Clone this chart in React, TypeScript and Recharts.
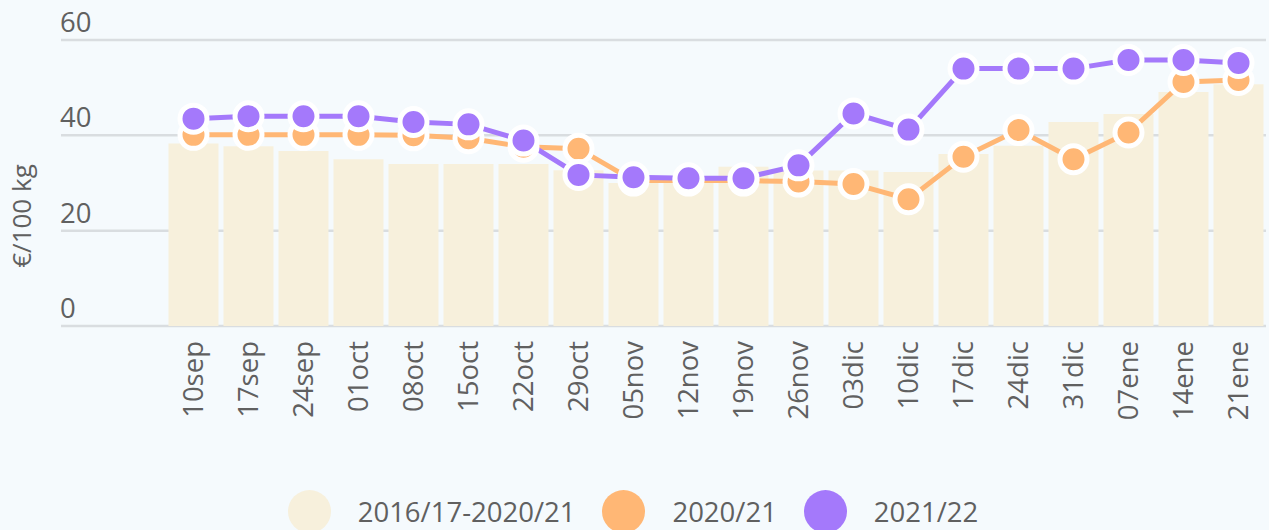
import {
  ComposedChart,
  Bar,
  Line,
  XAxis,
  YAxis,
  CartesianGrid,
  Legend,
} from "recharts";

document.body.style.margin = "0";

const WEEKS = [
  "10sep", "17sep", "24sep", "01oct", "08oct", "15oct", "22oct", "29oct",
  "05nov", "12nov", "19nov", "26nov", "03dic", "10dic", "17dic", "24dic",
  "31dic", "07ene", "14ene", "21ene",
];

// 2016/17-2020/21 average
const AVG_5Y = [
  38.3, 37.7, 36.7, 35.0, 34.0, 34.0, 34.0, 32.7, 30.0, 30.0,
  33.4, 32.6, 32.6, 32.3, 36.1, 37.8, 42.8, 44.5, 49.1, 50.7,
];

// 2020/21
const PREV = [
  40.1, 40.1, 40.1, 40.1, 40.0, 39.4, 37.6, 37.2, 30.5, 30.5,
  30.5, 30.3, 29.8, 26.6, 35.5, 41.1, 35.0, 40.6, 51.2, 51.6,
];

// 2021/22
const CURR = [
  43.5, 44.0, 44.0, 44.0, 42.8, 42.3, 38.9, 31.7, 31.2, 31.0,
  31.0, 33.7, 44.6, 41.2, 54.0, 54.0, 54.0, 55.8, 55.8, 55.2,
];

const Y_TICKS = [0, 20, 40, 60];

const SERIES = [
  { key: "avg", label: "2016/17-2020/21", color: "#f7f0dc" },
  { key: "prev", label: "2020/21", color: "#ffb775" },
  { key: "curr", label: "2021/22", color: "#a479fb" },
];

const data = WEEKS.map((week, i) => ({
  week,
  avg: AVG_5Y[i],
  prev: PREV[i],
  curr: CURR[i],
}));

const FONT = "'Open Sans', sans-serif";
const TEXT = "#606060";
const GRID = "#d9dde0";
const Y_AXIS_W = 166;

// gridline stub + label sitting above it, left of the plot
function YTick({ y, payload }: any) {
  return (
    <g>
      <line x1={61} x2={Y_AXIS_W} y1={y} y2={y} stroke={GRID} strokeWidth={2.5} />
      <text x={60} y={y - 8} fill={TEXT} fontSize={27.5} fontFamily={FONT} textAnchor="start">
        {payload.value}
      </text>
    </g>
  );
}

function XTick({ x, y, payload }: any) {
  return (
    <g transform={`translate(${x},${y})`}>
      <text
        transform="rotate(-90)"
        x={-15}
        y={9.5}
        textAnchor="end"
        fill={TEXT}
        fontSize={27.5}
        fontFamily={FONT}
      >
        {payload.value}
      </text>
    </g>
  );
}

function LegendContent() {
  return (
    <div
      style={{
        height: 44,
        display: "flex",
        justifyContent: "center",
        alignItems: "center",
        gap: 27,
        paddingRight: 0,
        fontFamily: FONT,
        fontSize: 27.5,
        color: TEXT,
        position: "relative",
        top: 3,
      }}
    >
      {SERIES.map((s) => (
        <span key={s.key} style={{ display: "flex", alignItems: "center", gap: 27 }}>
          <span
            style={{ width: 43, height: 43, borderRadius: "50%", background: s.color, display: "inline-block" }}
          />
          {s.label}
        </span>
      ))}
    </div>
  );
}

const dotStyle = (color: string) => ({ r: 13.5, fill: color, stroke: "#fff", strokeWidth: 5 });

export default function App() {
  return (
    <div style={{ width: 1269, height: 530, background: "#f5fafd" }}>
      <ComposedChart
        width={1269}
        height={530}
        data={data}
        margin={{ top: 40, right: 3, bottom: 0, left: 0 }}
        barCategoryGap="4.5%"
      >
        <CartesianGrid vertical={false} stroke={GRID} strokeWidth={2.5} strokeDasharray="" />
        <XAxis
          dataKey="week"
          axisLine={false}
          tickLine={false}
          tickSize={0}
          tickMargin={0}
          height={160}
          interval={0}
          tick={<XTick />}
        />
        <YAxis
          domain={[0, 60]}
          ticks={Y_TICKS}
          width={Y_AXIS_W}
          axisLine={false}
          tickLine={false}
          tick={<YTick />}
          label={{
            content: () => (
              <text
                transform="translate(31,216) rotate(-90)"
                textAnchor="middle"
                fill={TEXT}
                fontSize={26}
                fontFamily={FONT}
              >
                €/100 kg
              </text>
            ),
          }}
        />
        <Legend verticalAlign="bottom" content={<LegendContent />} />
        <Bar dataKey="avg" name={SERIES[0].label} fill={SERIES[0].color} isAnimationActive={false} />
        <Line
          dataKey="prev"
          name={SERIES[1].label}
          stroke={SERIES[1].color}
          strokeWidth={5}
          dot={dotStyle(SERIES[1].color)}
          activeDot={false}
          isAnimationActive={false}
        />
        <Line
          dataKey="curr"
          name={SERIES[2].label}
          stroke={SERIES[2].color}
          strokeWidth={5}
          dot={dotStyle(SERIES[2].color)}
          activeDot={false}
          isAnimationActive={false}
        />
      </ComposedChart>
    </div>
  );
}
